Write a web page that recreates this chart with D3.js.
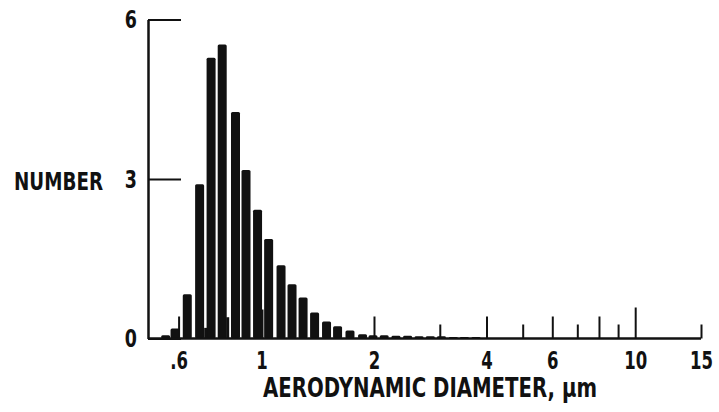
<!DOCTYPE html>
<html>
<head>
<meta charset="utf-8">
<script src="https://cdn.jsdelivr.net/npm/d3@7"></script>
<style>
	html, body { margin: 0; padding: 0; background: #fff; }
	svg { display: block; }
	text { font-family: "DejaVu Sans", sans-serif; font-weight: bold; fill: #111; }
	.axis path, .axis line { stroke: #111; }
</style>
</head>
<body>
<div id="chart"></div>
<script>
// size channels (aerodynamic diameter, um) and counts
const diameters = [0.554, 0.587, 0.633, 0.683, 0.733, 0.785, 0.852, 0.909, 0.976, 1.045,
	1.128, 1.207, 1.292, 1.387, 1.493, 1.598, 1.725, 1.864, 1.988,
	2.13, 2.29, 2.46, 2.64, 2.83, 3.03, 3.26, 3.49, 3.75];
const counts = [0.06, 0.19, 0.83, 2.9, 5.28, 5.53, 4.26, 3.17, 2.42, 1.87,
	1.38, 1.02, 0.77, 0.49, 0.32, 0.23, 0.15, 0.08, 0.06,
	0.06, 0.05, 0.05, 0.04, 0.04, 0.04, 0.03, 0.03, 0.03];
// short filler bars seen in the gaps
const gapDiameters = [0.709, 0.812];
const gapCounts = [0.2, 0.4];

const xTickValues = [0.6, 1, 2, 4, 6, 10, 15];
const xTickLabels = [".6", "1", "2", "4", "6", "10", "15"];
const xShortTicks = [3, 5, 7, 9, 15];
const xLongTicks = [0.6, 2, 4, 6, 8];
const yTickValues = [0, 3, 6];

const width = 719, height = 412;

const svg = d3.select('#chart').append('svg')
	.attr('width', width)
	.attr('height', height);

const x = d3.scaleLog()
	.domain([0.5, 15])
	.range([149, 701]);
const y = d3.scaleLinear()
	.domain([0, 6])
	.range([338.5, 19.5]);

const barW = 9;

// no condensed face installed, so squeeze labels sideways
const squeeze = (sel, s) => sel
	.attr('transform', `scale(${s},1)`)
	.attr('x', function() { return (+this.getAttribute('x') || 0) / s; });

// bars
svg.append('g')
	.selectAll('rect')
	.data(diameters.map((d, i) => ({ d, n: counts[i] })))
	.join('rect')
	.attr('x', p => x(p.d) - barW / 2)
	.attr('width', barW)
	.attr('y', p => y(p.n))
	.attr('height', p => y(0) - y(p.n))
	.attr('rx', 1.5)
	.attr('fill', '#111');

svg.append('g')
	.selectAll('rect')
	.data(gapDiameters.map((d, i) => ({ d, n: gapCounts[i] })))
	.join('rect')
	.attr('x', p => x(p.d) - 1.5)
	.attr('width', 3)
	.attr('y', p => y(p.n))
	.attr('height', p => y(0) - y(p.n))
	.attr('fill', '#111');

// x axis: labels below, ticks pointing up
const xAxis = svg.append('g')
	.attr('class', 'axis x')
	.attr('transform', `translate(0, ${y(0)})`)
	.call(d3.axisBottom(x)
		.tickValues(xTickValues)
		.tickFormat((d, i) => xTickLabels[i])
		.tickSize(0)
		.tickPadding(13));
xAxis.select('.domain')
	.attr('stroke-width', 2.5)
	.attr('d', `M${x.range()[0] - 1},0H${x.range()[1]}`);
xAxis.selectAll('text')
	.attr('font-size', 25)
	.call(squeeze, 0.66);

const upTicks = (vals, size, w) => {
	svg.append('g')
		.attr('class', 'axis')
		.attr('transform', `translate(0, ${y(0)})`)
		.call(d3.axisTop(x).tickValues(vals).tickSize(size).tickFormat(''))
		.call(g => g.select('.domain').remove())
		.selectAll('line').attr('stroke-width', w);
};
upTicks(xShortTicks, 14, 2);
upTicks(xLongTicks, 22, 2);
upTicks([1], 29, 3);
upTicks([10], 31, 2);

// y axis
const yAxis = svg.append('g')
	.attr('class', 'axis y')
	.attr('transform', `translate(148, 0)`)
	.call(d3.axisLeft(y)
		.tickValues(yTickValues)
		.tickFormat(d3.format('d'))
		.tickSizeInner(-33)
		.tickSizeOuter(0)
		.tickPadding(11));
yAxis.select('.domain').attr('stroke-width', 2.5);
yAxis.selectAll('line').attr('stroke-width', 2);
yAxis.selectAll('text')
	.attr('font-size', 25)
	.call(squeeze, 0.7);

svg.append('text')
	.attr('x', 14)
	.attr('y', 190)
	.attr('font-size', 25)
	.attr('textLength', 89)
	.attr('lengthAdjust', 'spacingAndGlyphs')
	.text('NUMBER');

svg.append('text')
	.attr('x', 263)
	.attr('y', 397)
	.attr('font-size', 26)
	.attr('textLength', 334)
	.attr('lengthAdjust', 'spacingAndGlyphs')
	.text('AERODYNAMIC DIAMETER, µm');
</script>
</body>
</html>
